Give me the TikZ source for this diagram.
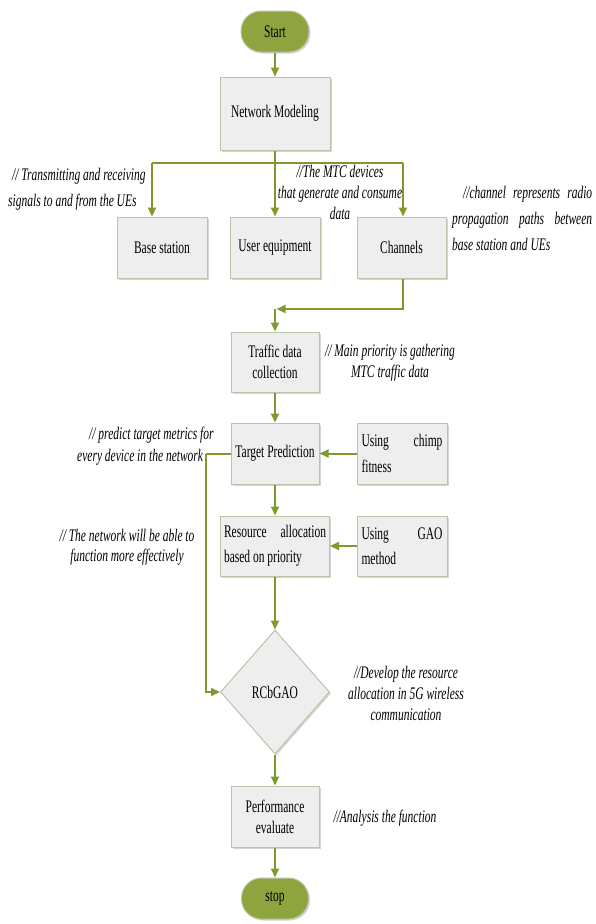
\documentclass[tikz,border=0pt]{standalone}
\usepackage{fontspec}
\setmainfont[FakeStretch=0.65]{Liberation Serif}
\usetikzlibrary{shapes.geometric,arrows.meta,shadows}
\definecolor{arr}{HTML}{7E9A2C}
\definecolor{startfill}{HTML}{8EA53F}
\definecolor{boxfill}{HTML}{EEEEEE}
\definecolor{boxline}{HTML}{BCC4A8}
\definecolor{shadowc}{HTML}{D4D4D4}
\begin{document}
\begin{tikzpicture}[x=1pt,y=-1pt,
  every node/.style={font=\fontsize{17.7}{21}\selectfont},
  procbox/.style={draw=boxline,line width=1pt,fill=boxfill,inner sep=0pt,align=center,
    drop shadow={fill=shadowc,opacity=1,shadow xshift=1.5pt,shadow yshift=-1.5pt}},
  term/.style={draw=boxline,line width=1pt,fill=startfill,rounded corners=20pt,inner sep=0pt,
    minimum width=68pt,minimum height=41pt,
    drop shadow={fill=shadowc,opacity=1,shadow xshift=1.5pt,shadow yshift=-1.5pt}},
  conn/.style={draw=arr,line width=2pt},
  arrow/.style={conn,-{Triangle[length=9pt,width=8pt]}},
  note/.style={inner sep=0pt,font=\fontsize{17.7}{21}\selectfont\itshape}]
\useasboundingbox (0,0) rectangle (595,924);

% nodes
\node[term] (start) at (275,31.5) {Start};
\node[procbox,minimum width=110pt,minimum height=73pt] (nm) at (275,113.5) {Network Modeling};
\node[procbox,minimum width=90pt,minimum height=61pt] (bs) at (162,247.5) {Base station};
\node[procbox,minimum width=90pt,minimum height=61pt] (ue) at (275,247.5) {User equipment};
\node[procbox,minimum width=89pt,minimum height=61pt] (ch) at (401.5,247.5) {Channels};
\node[procbox,minimum width=88pt,minimum height=60pt] (tdc) at (275,362) {Traffic data\\collection};
\node[procbox,minimum width=88pt,minimum height=61pt] (tp) at (275,453.5) {Target Prediction};
\node[procbox,minimum width=90pt,minimum height=61pt,align=left,font=\fontsize{17.7}{25.5}\selectfont] (chimp) at (402,453.5) {\makebox[81pt][s]{Using chimp}\\fitness};
\node[procbox,minimum width=109pt,minimum height=60pt,align=left,font=\fontsize{17.7}{25.5}\selectfont] (ra) at (275,546) {\makebox[102pt][s]{Resource allocation}\\based on priority};
\node[procbox,minimum width=90pt,minimum height=60pt,align=left,font=\fontsize{17.7}{25.5}\selectfont] (gao) at (402,546) {\makebox[81pt][s]{Using GAO}\\method};
\node[procbox,diamond,minimum width=109pt,minimum height=124pt] (dia) at (275,692) {RCbGAO};
\node[procbox,minimum width=88pt,minimum height=61pt] (pe) at (275,816.5) {Performance\\evaluate};
\node[term,minimum width=67pt] (stop) at (275,898.5) {stop};

% junction coordinates
\coordinate (j1) at (152,163);
\coordinate (j2) at (275,163);
\coordinate (j3) at (403,163);
\coordinate (m) at (275,309);
\coordinate (lft) at (206,453.5);

% connectors
\draw[arrow] (start.south) -- (nm.north);
\draw[conn] (nm.south) -- (j2);
\draw[conn] (j1) -- (j3);
\draw[arrow] (j1) -- (j1 |- bs.north);
\draw[arrow] (j2) -- (ue.north);
\draw[arrow] (j3) -- (j3 |- ch.north);
\draw[arrow,shorten >=1.5pt] (j3 |- ch.south) |- (m);
\draw[arrow] (m) -- (tdc.north);
\draw[arrow] (tdc.south) -- (tp.north);
\draw[arrow] (chimp.west) -- (tp.east);
\draw[arrow] (tp.south) -- (ra.north);
\draw[arrow] (gao.west) -- (ra.east);
\draw[conn] (tp.west) -- (lft);
\draw[arrow] (lft) |- (dia.west);
\draw[arrow] (ra.south) -- (dia.north);
\draw[arrow] (dia.south) -- (pe.north);
\draw[arrow] (pe.south) -- (stop.north);

% annotations
\node[note,anchor=west,align=left,font=\fontsize{17.7}{25.5}\selectfont\itshape] (a1) at (8,189)
  {\hspace*{4pt}// Transmitting and receiving\\signals to and from the UEs};
\node[note,align=center] (a2) at (340,192) {//The MTC devices\\that generate and consume\\data};
\node[note,anchor=west,align=left,font=\fontsize{17.7}{26}\selectfont\itshape] (a3) at (452,218)
  {\hspace*{11pt}\makebox[129pt][s]{//channel represents radio}\\\makebox[140pt][s]{propagation paths between}\\base station and UEs};
\node[note,align=center] (a4) at (390,362.5) {// Main priority is gathering\\MTC traffic data};
\node[note,anchor=west,align=left,font=\fontsize{17.7}{22}\selectfont\itshape] (a5) at (77,446)
  {\hspace*{12pt}// predict target metrics for\\every device in the network};
\node[note,align=center,font=\fontsize{17.7}{20}\selectfont\itshape] (a6) at (127,547) {// The network will be able to\\function more effectively};
\node[note,align=center] (a7) at (406,693) {//Develop the resource\\allocation in 5G wireless\\communication};
\node[note] (a8) at (385,818) {//Analysis the function};
\end{tikzpicture}
\end{document}
